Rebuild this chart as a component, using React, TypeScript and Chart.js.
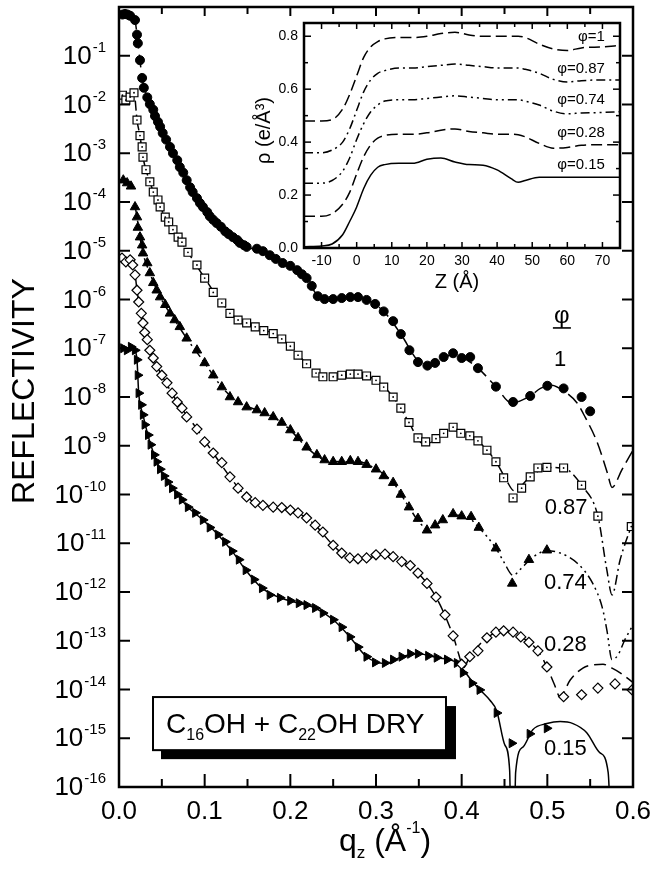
import { useEffect, useRef } from 'react';
import { Chart, registerables } from 'chart.js';

Chart.register(...registerables);

const FONT = '"Liberation Sans", Arial, Helvetica, sans-serif';

type Pt = [number, number];

// ---------------- Main chart: reflectivity R(qz) ----------------
const PHI_1_DATA: Pt[] = [
  [0.004, 0.7], [0.007, 0.72], [0.01, 0.7], [0.013, 0.66], [0.0187, 0.54], [0.021, 0.27], [0.022, 0.18],
  [0.0245, 0.081], [0.027, 0.035], [0.029, 0.022], [0.033, 0.014], [0.036, 0.0102], [0.04, 7.8e-3],
  [0.042, 5.8e-3], [0.0455, 4.4e-3], [0.048, 3.5e-3], [0.051, 2.6e-3], [0.055, 1.9e-3], [0.0595, 1.35e-3],
  [0.063, 1.0e-3], [0.068, 7.2e-4], [0.071, 5.2e-4], [0.075, 4.0e-4], [0.079, 2.8e-4], [0.083, 2.0e-4],
  [0.086, 1.6e-4], [0.091, 1.2e-4], [0.0945, 9.5e-5], [0.098, 7.9e-5], [0.103, 6.2e-5], [0.106, 5.1e-5],
  [0.11, 4.3e-5], [0.114, 3.7e-5], [0.119, 3.1e-5], [0.124, 2.5e-5], [0.128, 2.2e-5], [0.133, 1.9e-5],
  [0.138, 1.66e-5], [0.141, 1.45e-5], [0.146, 1.3e-5], [0.149, 1.2e-5], [0.161, 1.1e-5], [0.168, 9.8e-6],
  [0.176, 8.1e-6], [0.183, 6.8e-6], [0.191, 5.6e-6], [0.2, 4.9e-6], [0.208, 4.0e-6], [0.2135, 3.3e-6],
  [0.219, 2.75e-6], [0.225, 1.9e-6], [0.232, 1.17e-6], [0.24, 1.02e-6], [0.25, 1.02e-6], [0.26, 1.07e-6],
  [0.27, 1.12e-6], [0.279, 1.12e-6], [0.289, 9.8e-7], [0.299, 8.1e-7], [0.309, 5.7e-7], [0.32, 3.6e-7],
  [0.329, 1.95e-7], [0.339, 9.1e-8], [0.349, 5.2e-8], [0.36, 4.4e-8], [0.369, 5.0e-8], [0.379, 6.6e-8],
  [0.39, 7.9e-8], [0.4, 6.3e-8], [0.41, 6.6e-8], [0.419, 3.9e-8], [0.44, 1.63e-8], [0.46, 7.9e-9],
  [0.48, 1.05e-8], [0.5, 1.7e-8], [0.519, 1.5e-8], [0.54, 1.0e-8], [0.55, 5.1e-9],
];

const PHI_087_DATA: Pt[] = [
  [0.004, 0.0155], [0.008, 0.0123], [0.013, 0.0142], [0.0175, 0.0174], [0.021, 4.8e-3], [0.0245, 2.3e-3],
  [0.027, 1.35e-3], [0.028, 8.3e-4], [0.0315, 4.6e-4], [0.036, 2.6e-4], [0.04, 1.6e-4], [0.0455, 1.1e-4],
  [0.048, 7.9e-5], [0.054, 4.9e-5], [0.058, 3.9e-5], [0.063, 2.7e-5], [0.069, 1.9e-5], [0.0735, 1.5e-5],
  [0.0805, 9.3e-6], [0.091, 5.1e-6], [0.1, 2.75e-6], [0.11, 1.4e-6], [0.12, 8.5e-7], [0.1295, 5.2e-7],
  [0.139, 3.8e-7], [0.149, 3.3e-7], [0.159, 2.75e-7], [0.169, 2.3e-7], [0.18, 2.0e-7], [0.19, 1.55e-7],
  [0.2, 1.1e-7], [0.209, 7.2e-8], [0.219, 4.8e-8], [0.23, 3.1e-8], [0.238, 2.6e-8], [0.25, 2.6e-8],
  [0.26, 2.8e-8], [0.27, 2.95e-8], [0.279, 2.95e-8], [0.289, 2.7e-8], [0.3, 2.2e-8], [0.309, 1.6e-8],
  [0.32, 1.0e-8], [0.329, 5.9e-9], [0.3385, 3.0e-9], [0.349, 1.45e-9], [0.358, 1.2e-9], [0.37, 1.4e-9],
  [0.379, 1.8e-9], [0.39, 2.4e-9], [0.399, 1.8e-9], [0.4095, 1.6e-9], [0.419, 1.26e-9], [0.4295, 8.1e-10],
  [0.44, 4.7e-10], [0.449, 2.2e-10], [0.46, 8.5e-11], [0.47, 1.35e-10], [0.48, 2.3e-10], [0.489, 3.5e-10],
  [0.4995, 3.6e-10], [0.519, 3.5e-10], [0.54, 1.55e-10], [0.559, 3.6e-11], [0.598, 2.2e-11],
];

const PHI_074_DATA: Pt[] = [
  [0.005, 2.8e-4], [0.0095, 2.45e-4], [0.014, 2.1e-4], [0.0187, 7.9e-5], [0.021, 4.9e-5], [0.022, 3.0e-5],
  [0.0245, 1.9e-5], [0.027, 1.3e-5], [0.028, 8.9e-6], [0.033, 5.6e-6], [0.036, 3.5e-6], [0.04, 2.2e-6],
  [0.044, 1.55e-6], [0.048, 1.12e-6], [0.054, 7.8e-7], [0.0595, 5.2e-7], [0.065, 3.8e-7], [0.071, 2.75e-7],
  [0.079, 1.6e-7], [0.091, 9.1e-8], [0.1, 5.0e-8], [0.11, 2.8e-8], [0.12, 1.6e-8], [0.1295, 1.0e-8],
  [0.139, 7.9e-9], [0.149, 6.2e-9], [0.161, 5.4e-9], [0.17, 4.7e-9], [0.18, 3.9e-9], [0.19, 3.0e-9],
  [0.2, 2.1e-9], [0.209, 1.45e-9], [0.219, 9.3e-10], [0.231, 6.5e-10], [0.24, 5.1e-10], [0.25, 4.7e-10],
  [0.26, 4.7e-10], [0.27, 4.9e-10], [0.279, 4.7e-10], [0.289, 4.1e-10], [0.3, 3.3e-10], [0.309, 2.4e-10],
  [0.32, 1.75e-10], [0.329, 1.0e-10], [0.3385, 5.5e-11], [0.349, 3.2e-11], [0.3595, 1.85e-11],
  [0.369, 2.35e-11], [0.378, 3.0e-11], [0.39, 4.0e-11], [0.4, 3.6e-11], [0.411, 3.5e-11], [0.42, 2.1e-11],
  [0.44, 7.9e-12], [0.459, 1.5e-12], [0.4785, 4.6e-12], [0.4995, 7.2e-12],
];

const PHI_028_DATA: Pt[] = [
  [0.0035, 7.1e-6], [0.008, 5.9e-6], [0.013, 6.5e-6], [0.016, 5.1e-6], [0.0187, 3.2e-6], [0.021, 1.55e-6],
  [0.023, 8.9e-7], [0.026, 5.2e-7], [0.028, 3.3e-7], [0.03, 2.1e-7], [0.033, 1.5e-7], [0.036, 9.1e-8],
  [0.04, 6.3e-8], [0.044, 4.2e-8], [0.05, 2.8e-8], [0.056, 1.95e-8], [0.062, 1.2e-8], [0.068, 7.9e-9],
  [0.0735, 5.9e-9], [0.079, 3.9e-9], [0.091, 2.2e-9], [0.1, 1.2e-9], [0.11, 7.1e-10], [0.12, 4.5e-10],
  [0.1295, 2.3e-10], [0.139, 1.35e-10], [0.149, 8.9e-11], [0.159, 6.8e-11], [0.168, 6.0e-11],
  [0.18, 5.5e-11], [0.19, 5.4e-11], [0.2, 4.8e-11], [0.209, 4.2e-11], [0.219, 3.3e-11], [0.229, 2.35e-11],
  [0.238, 1.7e-11], [0.25, 9.1e-12], [0.26, 6.3e-12], [0.2695, 5.0e-12], [0.279, 4.8e-12], [0.289, 5.0e-12],
  [0.3, 5.8e-12], [0.3105, 6.0e-12], [0.32, 5.3e-12], [0.33, 4.2e-12], [0.34, 3.5e-12], [0.349, 2.45e-12],
  [0.3595, 1.5e-12], [0.37, 7.9e-13], [0.3805, 3.4e-13], [0.39, 1.26e-13], [0.4, 3.3e-14], [0.4095, 4.7e-14],
  [0.419, 6.2e-14], [0.4295, 1.15e-13], [0.44, 1.5e-13], [0.449, 1.6e-13], [0.46, 1.5e-13], [0.469, 1.2e-13],
  [0.4785, 9.3e-14], [0.489, 6.2e-14], [0.4995, 2.9e-14], [0.519, 7.1e-15], [0.54, 7.8e-15],
  [0.559, 1.07e-14], [0.579, 1.3e-14], [0.599, 9.8e-15],
];

const PHI_015_DATA: Pt[] = [
  [0.005, 1.0e-7], [0.0093, 9.1e-8], [0.014, 1.07e-7], [0.0187, 9.1e-8], [0.021, 5.8e-8], [0.022, 2.8e-8],
  [0.023, 1.2e-8], [0.026, 6.9e-9], [0.028, 4.3e-9], [0.03, 2.7e-9], [0.034, 1.66e-9], [0.037, 1.05e-9],
  [0.041, 6.5e-10], [0.044, 4.7e-10], [0.048, 3.3e-10], [0.0525, 2.4e-10], [0.057, 1.8e-10], [0.062, 1.35e-10],
  [0.068, 1.0e-10], [0.0735, 7.8e-11], [0.0805, 5.5e-11], [0.089, 4.2e-11], [0.098, 3.0e-11], [0.106, 2.1e-11],
  [0.1155, 1.5e-11], [0.124, 1.07e-11], [0.132, 6.9e-12], [0.14, 4.6e-12], [0.148, 2.8e-12],
  [0.1575, 1.8e-12], [0.167, 1.2e-12], [0.176, 8.7e-13], [0.188, 7.6e-13], [0.2, 6.6e-13], [0.21, 5.9e-13],
  [0.219, 5.4e-13], [0.229, 4.7e-13], [0.238, 3.7e-13], [0.25, 2.7e-13], [0.26, 1.9e-13], [0.2695, 1.2e-13],
  [0.279, 7.4e-14], [0.289, 4.7e-14], [0.299, 3.6e-14], [0.3105, 3.5e-14], [0.32, 4.1e-14], [0.33, 4.7e-14],
  [0.34, 5.4e-14], [0.349, 5.4e-14], [0.361, 4.9e-14], [0.371, 4.5e-14], [0.383, 4.1e-14], [0.3945, 3.5e-14],
  [0.4015, 2.2e-14], [0.412, 1.35e-14], [0.421, 9.8e-15], [0.441, 3.3e-15], [0.4585, 7.9e-16],
  [0.4795, 1.23e-15], [0.4995, 1.6e-15],
];

// model fits (lines)
const FIT_1: Pt[] = [
  [0.017, 0.62], [0.019, 0.5], [0.021, 0.27], [0.0245, 0.08], [0.027, 0.035], [0.033, 0.014], [0.04, 7.8e-3],
  [0.051, 2.6e-3], [0.063, 1.0e-3], [0.075, 4.0e-4], [0.086, 1.6e-4], [0.098, 7.9e-5], [0.114, 3.7e-5],
  [0.133, 1.9e-5], [0.149, 1.2e-5], [0.161, 1.05e-5], [0.176, 8.1e-6], [0.191, 5.6e-6], [0.208, 4.0e-6],
  [0.219, 2.75e-6], [0.232, 1.2e-6], [0.25, 1.02e-6], [0.27, 1.12e-6], [0.289, 9.8e-7], [0.309, 5.7e-7],
  [0.329, 1.95e-7], [0.349, 5.5e-8], [0.36, 4.3e-8], [0.372, 5.2e-8], [0.388, 7.3e-8], [0.4, 6.6e-8],
  [0.419, 3.9e-8], [0.44, 1.63e-8], [0.458, 7.6e-9], [0.48, 1.05e-8], [0.492, 1.5e-8], [0.505, 1.75e-8],
  [0.52, 1.3e-8], [0.5345, 7.6e-9], [0.544, 3.9e-9], [0.558, 1.2e-9], [0.57, 2.8e-10], [0.5755, 1.4e-10],
  [0.587, 3.2e-10], [0.6, 8.1e-10],
];

const FIT_087: Pt[] = [
  [0.019, 0.012], [0.021, 4.8e-3], [0.0245, 2.3e-3], [0.028, 8.3e-4], [0.036, 2.6e-4], [0.048, 7.9e-5],
  [0.063, 2.7e-5], [0.0805, 9.3e-6], [0.1, 2.75e-6], [0.12, 8.5e-7], [0.139, 3.8e-7], [0.159, 2.75e-7],
  [0.18, 2.0e-7], [0.2, 1.1e-7], [0.219, 4.8e-8], [0.238, 2.6e-8], [0.26, 2.8e-8], [0.279, 2.95e-8],
  [0.3, 2.2e-8], [0.32, 1.0e-8], [0.3385, 3.0e-9], [0.35, 1.3e-9], [0.358, 1.05e-9], [0.37, 1.4e-9],
  [0.386, 2.1e-9], [0.4, 1.9e-9], [0.419, 1.26e-9], [0.44, 4.7e-10], [0.452, 2.0e-10], [0.461, 1.2e-10],
  [0.48, 2.3e-10], [0.5, 3.6e-10], [0.52, 3.4e-10], [0.54, 1.55e-10], [0.559, 3.6e-11], [0.5695, 2.8e-12],
  [0.5755, 8.7e-13], [0.585, 4.6e-12], [0.6, 2.8e-11],
];

const FIT_074: Pt[] = [
  [0.019, 7.9e-5], [0.021, 4.9e-5], [0.0245, 1.9e-5], [0.028, 8.9e-6], [0.036, 3.5e-6], [0.048, 1.12e-6],
  [0.065, 3.8e-7], [0.079, 1.6e-7], [0.1, 5.0e-8], [0.12, 1.6e-8], [0.139, 7.9e-9], [0.161, 5.4e-9],
  [0.18, 3.9e-9], [0.2, 2.1e-9], [0.219, 9.3e-10], [0.24, 5.1e-10], [0.26, 4.7e-10], [0.279, 4.7e-10],
  [0.3, 3.3e-10], [0.32, 1.75e-10], [0.3385, 5.5e-11], [0.352, 2.5e-11], [0.361, 2.0e-11], [0.372, 2.5e-11],
  [0.39, 3.8e-11], [0.405, 3.6e-11], [0.42, 2.1e-11], [0.44, 7.9e-12], [0.449, 4.2e-12], [0.46, 2.2e-12],
  [0.47, 3.1e-12], [0.482, 5.0e-12], [0.4995, 7.0e-12], [0.515, 6.3e-12], [0.535, 3.9e-12], [0.553, 1.5e-12],
  [0.564, 4.9e-13], [0.5695, 1.66e-13], [0.5755, 4.1e-14], [0.5825, 5.1e-14], [0.5905, 1.05e-13],
  [0.6, 2.1e-13],
];

const FIT_028: Pt[] = [
  [0.019, 3.2e-6], [0.021, 1.55e-6], [0.028, 3.3e-7], [0.036, 9.1e-8], [0.05, 2.8e-8], [0.068, 7.9e-9],
  [0.091, 2.2e-9], [0.11, 7.1e-10], [0.1295, 2.3e-10], [0.149, 8.9e-11], [0.168, 6.0e-11], [0.19, 5.4e-11],
  [0.209, 4.2e-11], [0.229, 2.35e-11], [0.25, 9.1e-12], [0.2695, 5.0e-12], [0.289, 5.0e-12], [0.3105, 6.0e-12],
  [0.33, 4.2e-12], [0.349, 2.45e-12], [0.37, 7.9e-13], [0.39, 1.26e-13], [0.397, 5.0e-14], [0.402, 2.8e-14],
  [0.4095, 4.7e-14], [0.4295, 1.15e-13], [0.449, 1.6e-13], [0.469, 1.2e-13], [0.489, 6.2e-14],
  [0.4995, 2.9e-14], [0.508, 1.3e-14], [0.515, 7.0e-15], [0.5265, 1.55e-14], [0.5415, 2.75e-14],
  [0.553, 3.2e-14], [0.565, 3.3e-14], [0.5755, 2.75e-14], [0.585, 2.2e-14], [0.6, 1.4e-14],
];

const FIT_015: Pt[] = [
  [0.019, 9.1e-8], [0.021, 5.8e-8], [0.023, 1.2e-8], [0.028, 4.3e-9], [0.037, 1.05e-9], [0.048, 3.3e-10],
  [0.062, 1.35e-10], [0.0805, 5.5e-11], [0.098, 3.0e-11], [0.1155, 1.5e-11], [0.132, 6.9e-12], [0.148, 2.8e-12],
  [0.167, 1.2e-12], [0.188, 7.6e-13], [0.21, 5.9e-13], [0.229, 4.7e-13], [0.25, 2.7e-13], [0.2695, 1.2e-13],
  [0.289, 4.7e-14], [0.3105, 3.4e-14], [0.33, 4.7e-14], [0.349, 5.4e-14], [0.371, 4.5e-14], [0.3945, 3.5e-14],
  [0.412, 1.5e-14], [0.421, 1.0e-14], [0.433, 6.0e-15], [0.441, 3.6e-15], [0.4505, 7.2e-16], [0.456, 2.2e-16],
  [0.4595, 1e-20], [0.463, 2.0e-16], [0.4715, 6.6e-16], [0.483, 1.5e-15], [0.4995, 2.0e-15], [0.515, 2.2e-15],
  [0.53, 2.0e-15], [0.546, 1.3e-15], [0.5615, 5.0e-16], [0.571, 2.0e-16], [0.578, 1e-20],
];

// axes of the main chart
const Q_TICK_VALUES = [0, 0.1, 0.2, 0.3, 0.4, 0.5, 0.6];
const Q_TICK_LABELS = ['0.0', '0.1', '0.2', '0.3', '0.4', '0.5', '0.6'];
const Q_MINOR_TICKS = [0.05, 0.15, 0.25, 0.35, 0.45, 0.55];
const R_TICK_EXPONENTS = [-1, -2, -3, -4, -5, -6, -7, -8, -9, -10, -11, -12, -13, -14, -15, -16];

// curve labels (anchored in data coordinates)
const PHI_HEADER = { text: 'φ', q: 0.517, r: 4.6e-7 };
const CURVE_LABELS = [
  { text: '1', q: 0.515, r: 5.8e-8 },
  { text: '0.87', q: 0.522, r: 5.2e-11 },
  { text: '0.74', q: 0.521, r: 1.5e-12 },
  { text: '0.28', q: 0.521, r: 8.1e-14 },
  { text: '0.15', q: 0.521, r: 6.0e-16 },
];
const SAMPLE_BOX = { q0: 0.0397, q1: 0.3817, rTop: 7.0e-15, rBottom: 5.7e-16 };

// ---------------- Inset: electron density profiles ----------------
const Z_VALUES = [-15, -10, -7, -4, -2, 0, 2, 4, 6, 8, 12, 16, 20, 24, 28, 32, 36, 40, 44, 46, 48, 52, 56, 60, 64, 70, 75];
const RHO_PHI_1 = [0.48, 0.48, 0.485, 0.525, 0.58, 0.65, 0.72, 0.76, 0.78, 0.79, 0.795, 0.795, 0.8, 0.81, 0.815, 0.805, 0.8, 0.8, 0.8, 0.8, 0.795, 0.77, 0.752, 0.746, 0.756, 0.76, 0.765];
const RHO_PHI_087 = [0.36, 0.36, 0.37, 0.4, 0.45, 0.52, 0.59, 0.635, 0.66, 0.67, 0.68, 0.68, 0.685, 0.69, 0.695, 0.69, 0.685, 0.68, 0.68, 0.68, 0.675, 0.66, 0.637, 0.627, 0.632, 0.635, 0.635];
const RHO_PHI_074 = [0.245, 0.245, 0.255, 0.29, 0.34, 0.41, 0.47, 0.515, 0.54, 0.555, 0.56, 0.56, 0.565, 0.57, 0.575, 0.57, 0.565, 0.56, 0.56, 0.56, 0.555, 0.54, 0.517, 0.507, 0.51, 0.512, 0.515];
const RHO_PHI_028 = [0.12, 0.12, 0.13, 0.165, 0.21, 0.28, 0.345, 0.39, 0.415, 0.425, 0.43, 0.43, 0.435, 0.445, 0.45, 0.44, 0.435, 0.43, 0.43, 0.428, 0.42, 0.395, 0.377, 0.38, 0.388, 0.39, 0.39];
const RHO_PHI_015 = [0.005, 0.008, 0.015, 0.05, 0.1, 0.155, 0.225, 0.275, 0.305, 0.315, 0.32, 0.32, 0.335, 0.34, 0.325, 0.315, 0.313, 0.295, 0.262, 0.248, 0.255, 0.267, 0.267, 0.267, 0.267, 0.267, 0.267];

const Z_TICK_LABELS = [-10, 0, 10, 20, 30, 40, 50, 60, 70];
const Z_MINOR_TICKS = [-5, 5, 15, 25, 35, 45, 55, 65];
const RHO_TICK_LABELS = [0, 0.2, 0.4, 0.6, 0.8];
const RHO_MINOR_TICKS = [0.1, 0.3, 0.5, 0.7];
const INSET_LABELS = [
  { text: 'φ=1', z: 70.7, rho: 0.796 },
  { text: 'φ=0.87', z: 70.7, rho: 0.675 },
  { text: 'φ=0.74', z: 70.7, rho: 0.558 },
  { text: 'φ=0.28', z: 70.7, rho: 0.434 },
  { text: 'φ=0.15', z: 70.7, rho: 0.313 },
];

// ---------------- helpers ----------------
const toXY = (arr: Pt[]) => arr.map(([x, y]) => ({ x, y }));
const zip = (xs: number[], ys: number[]) => xs.map((x, i) => ({ x, y: ys[i] }));

type Part = { t: string; size: number; dy: number };
function drawRich(ctx: CanvasRenderingContext2D, parts: Part[], x: number, y: number, align: 'left' | 'center') {
  let total = 0;
  for (const p of parts) {
    ctx.font = `${p.size}px ${FONT}`;
    total += ctx.measureText(p.t).width;
  }
  let cx = align === 'center' ? x - total / 2 : x;
  ctx.textAlign = 'left';
  ctx.textBaseline = 'alphabetic';
  for (const p of parts) {
    ctx.font = `${p.size}px ${FONT}`;
    ctx.fillText(p.t, cx, y + p.dy);
    cx += ctx.measureText(p.t).width;
  }
}

function line(ctx: CanvasRenderingContext2D, x0: number, y0: number, x1: number, y1: number) {
  ctx.beginPath();
  ctx.moveTo(x0, y0);
  ctx.lineTo(x1, y1);
  ctx.stroke();
}

const mainDecor = {
  id: 'mainDecor',
  afterDraw(chart: any) {
    const { ctx, chartArea: a } = chart;
    const sx = chart.scales.x;
    const sy = chart.scales.y;
    ctx.save();
    ctx.strokeStyle = '#000';
    ctx.fillStyle = '#000';
    ctx.lineWidth = 2;
    Q_TICK_VALUES.forEach((q) => {
      const x = sx.getPixelForValue(q);
      line(ctx, x, a.bottom, x, a.bottom - 13);
      line(ctx, x, a.top, x, a.top + 9);
    });
    Q_MINOR_TICKS.forEach((q) => {
      const x = sx.getPixelForValue(q);
      line(ctx, x, a.bottom, x, a.bottom - 8);
      line(ctx, x, a.top, x, a.top + 7);
    });
    R_TICK_EXPONENTS.forEach((e) => {
      const y = sy.getPixelForValue(Math.pow(10, e));
      line(ctx, a.left, y, a.left + 11, y);
      line(ctx, a.right, y, a.right - 11, y);
    });
    ctx.lineWidth = 2.5;
    ctx.strokeRect(a.left, a.top, a.right - a.left, a.bottom - a.top);

    // y tick labels 10^-n
    R_TICK_EXPONENTS.forEach((e) => {
      const y = sy.getPixelForValue(Math.pow(10, e));
      const exp = '-' + Math.abs(e);
      ctx.font = `15px ${FONT}`;
      ctx.textAlign = 'right';
      ctx.textBaseline = 'middle';
      const ew = ctx.measureText(exp).width;
      ctx.fillText(exp, a.left - 13, y - 8);
      ctx.font = `26px ${FONT}`;
      ctx.fillText('10', a.left - 14 - ew, y + 1);
    });
    // x tick labels
    ctx.font = `26px ${FONT}`;
    ctx.textAlign = 'center';
    ctx.textBaseline = 'alphabetic';
    Q_TICK_VALUES.forEach((q, i) => {
      ctx.fillText(Q_TICK_LABELS[i], sx.getPixelForValue(q), a.bottom + 32);
    });
    // axis titles
    drawRich(
      ctx,
      [
        { t: 'q', size: 32, dy: 0 },
        { t: 'z', size: 17, dy: 7 },
        { t: ' (Å', size: 32, dy: 0 },
        { t: '-1', size: 16, dy: -18 },
        { t: ')', size: 32, dy: 0 },
      ],
      (a.left + a.right) / 2 + 9,
      a.bottom + 64,
      'center'
    );
    ctx.save();
    ctx.translate(34, (a.top + a.bottom) / 2 - 6);
    ctx.rotate(-Math.PI / 2);
    ctx.font = `32px ${FONT}`;
    ctx.textAlign = 'center';
    ctx.textBaseline = 'alphabetic';
    ctx.fillText('REFLECTIVITY', 0, 0);
    ctx.restore();

    // curve labels
    ctx.font = `22px ${FONT}`;
    ctx.textAlign = 'center';
    ctx.textBaseline = 'middle';
    CURVE_LABELS.forEach((l) => {
      ctx.fillText(l.text, sx.getPixelForValue(l.q), sy.getPixelForValue(l.r));
    });
    const hx = sx.getPixelForValue(PHI_HEADER.q);
    const hy = sy.getPixelForValue(PHI_HEADER.r);
    ctx.font = `24px ${FONT}`;
    ctx.fillText(PHI_HEADER.text, hx, hy);
    ctx.lineWidth = 1.6;
    line(ctx, hx - 9, hy + 12, hx + 9, hy + 12);

    // sample box with shadow
    const bx0 = sx.getPixelForValue(SAMPLE_BOX.q0);
    const bx1 = sx.getPixelForValue(SAMPLE_BOX.q1);
    const by0 = sy.getPixelForValue(SAMPLE_BOX.rTop);
    const by1 = sy.getPixelForValue(SAMPLE_BOX.rBottom);
    ctx.fillStyle = '#000';
    ctx.fillRect(bx0 + 8, by0 + 9, bx1 - bx0 + 2, by1 - by0);
    ctx.fillStyle = '#fff';
    ctx.fillRect(bx0, by0, bx1 - bx0, by1 - by0);
    ctx.lineWidth = 2;
    ctx.strokeRect(bx0, by0, bx1 - bx0, by1 - by0);
    ctx.fillStyle = '#000';
    drawRich(
      ctx,
      [
        { t: 'C', size: 28, dy: 0 },
        { t: '16', size: 16, dy: 7 },
        { t: 'OH + C', size: 28, dy: 0 },
        { t: '22', size: 16, dy: 7 },
        { t: 'OH DRY', size: 28, dy: 0 },
      ],
      bx0 + 13,
      by0 + 36,
      'left'
    );
    ctx.restore();
  },
};

const insetDecor = {
  id: 'insetDecor',
  beforeDatasetsDraw(chart: any) {
    const { ctx, chartArea: a } = chart;
    ctx.save();
    ctx.fillStyle = '#fff';
    ctx.fillRect(a.left, a.top, a.right - a.left, a.bottom - a.top);
    ctx.restore();
  },
  afterDraw(chart: any) {
    const { ctx, chartArea: a } = chart;
    const sx = chart.scales.x;
    const sy = chart.scales.y;
    ctx.save();
    ctx.strokeStyle = '#000';
    ctx.fillStyle = '#000';
    ctx.lineWidth = 1.5;
    Z_TICK_LABELS.forEach((z) => {
      const x = sx.getPixelForValue(z);
      line(ctx, x, a.bottom, x, a.bottom - 6);
      line(ctx, x, a.top, x, a.top + 6);
    });
    Z_MINOR_TICKS.forEach((z) => {
      const x = sx.getPixelForValue(z);
      line(ctx, x, a.bottom, x, a.bottom - 4);
      line(ctx, x, a.top, x, a.top + 4);
    });
    RHO_TICK_LABELS.forEach((r) => {
      const y = sy.getPixelForValue(r);
      line(ctx, a.left, y, a.left + 7, y);
      line(ctx, a.right, y, a.right - 7, y);
    });
    RHO_MINOR_TICKS.forEach((r) => {
      const y = sy.getPixelForValue(r);
      line(ctx, a.left, y, a.left + 4, y);
      line(ctx, a.right, y, a.right - 4, y);
    });
    ctx.lineWidth = 2.5;
    ctx.strokeRect(a.left, a.top, a.right - a.left, a.bottom - a.top);

    ctx.font = `14px ${FONT}`;
    ctx.textAlign = 'center';
    ctx.textBaseline = 'top';
    Z_TICK_LABELS.forEach((z) => {
      ctx.fillText(String(z), sx.getPixelForValue(z), a.bottom + 6);
    });
    ctx.textAlign = 'right';
    ctx.textBaseline = 'middle';
    RHO_TICK_LABELS.forEach((r) => {
      ctx.fillText(r.toFixed(1), a.left - 6, sy.getPixelForValue(r));
    });

    ctx.font = `20px ${FONT}`;
    ctx.textAlign = 'center';
    ctx.textBaseline = 'alphabetic';
    ctx.fillText('Z (Å)', (a.left + a.right) / 2 - 5, a.bottom + 40);
    ctx.save();
    ctx.translate(a.left - 34, (a.top + a.bottom) / 2 - 5);
    ctx.rotate(-Math.PI / 2);
    ctx.fillText('ρ (e/Å³)', 0, 0);
    ctx.restore();

    ctx.font = `15px ${FONT}`;
    ctx.textAlign = 'right';
    ctx.textBaseline = 'middle';
    INSET_LABELS.forEach((l) => {
      ctx.fillText(l.text, sx.getPixelForValue(l.z), sy.getPixelForValue(l.rho));
    });
    ctx.restore();
  },
};

export default function App() {
  const mainRef = useRef<HTMLCanvasElement>(null);
  const insetRef = useRef<HTMLCanvasElement>(null);

  useEffect(() => {
    const markers = { showLine: false, order: 1 };
    const fitLine = {
      pointRadius: 0,
      borderColor: '#000',
      borderWidth: 1.5,
      fill: false,
      cubicInterpolationMode: 'monotone' as const,
      order: 2,
    };
    const main = new Chart(mainRef.current!, {
      type: 'line',
      data: {
        datasets: [
          { ...markers, data: toXY(PHI_087_DATA), pointStyle: 'circle', pointRadius: 0.9, backgroundColor: '#000', borderColor: '#000', borderWidth: 0, order: 0 },
          { ...markers, data: toXY(PHI_1_DATA), pointStyle: 'circle', pointRadius: 4.5, backgroundColor: '#000', borderColor: '#000', borderWidth: 1 },
          { ...markers, data: toXY(PHI_087_DATA), pointStyle: 'rect', pointRadius: 5.6, backgroundColor: '#fff', borderColor: '#000', borderWidth: 1.2 },
          { ...markers, data: toXY(PHI_074_DATA), pointStyle: 'triangle', pointRadius: 5.5, backgroundColor: '#000', borderColor: '#000', borderWidth: 1 },
          { ...markers, data: toXY(PHI_028_DATA), pointStyle: 'rectRot', pointRadius: 5, backgroundColor: '#fff', borderColor: '#000', borderWidth: 1.2 },
          { ...markers, data: toXY(PHI_015_DATA), pointStyle: 'triangle', pointRotation: 90, pointRadius: 5.2, backgroundColor: '#000', borderColor: '#000', borderWidth: 1 },
          { ...fitLine, data: toXY(FIT_1), borderDash: [13, 6] },
          { ...fitLine, data: toXY(FIT_087), borderDash: [10, 4, 2, 4] },
          { ...fitLine, data: toXY(FIT_074), borderDash: [10, 4, 2, 4, 2, 4] },
          { ...fitLine, data: toXY(FIT_028), borderDash: [12, 6] },
          { ...fitLine, data: toXY(FIT_015) },
        ] as any,
      },
      options: {
        animation: false,
        responsive: false,
        devicePixelRatio: 1,
        events: [],
        layout: { padding: { left: 119, top: 7, right: 18, bottom: 84 } },
        scales: {
          x: { type: 'linear', min: 0, max: 0.6, display: false },
          y: { type: 'logarithmic', min: 1e-16, max: 1, display: false },
        },
        plugins: { legend: { display: false }, tooltip: { enabled: false } },
      },
      plugins: [mainDecor],
    });

    const insetLine = {
      pointRadius: 0,
      borderColor: '#000',
      borderWidth: 1.5,
      fill: false,
      cubicInterpolationMode: 'monotone' as const,
    };
    const inset = new Chart(insetRef.current!, {
      type: 'line',
      data: {
        datasets: [
          { ...insetLine, data: zip(Z_VALUES, RHO_PHI_1), borderDash: [11, 5] },
          { ...insetLine, data: zip(Z_VALUES, RHO_PHI_087), borderDash: [9, 4, 2, 4] },
          { ...insetLine, data: zip(Z_VALUES, RHO_PHI_074), borderDash: [9, 4, 2, 4, 2, 4] },
          { ...insetLine, data: zip(Z_VALUES, RHO_PHI_028), borderDash: [11, 5] },
          { ...insetLine, data: zip(Z_VALUES, RHO_PHI_015) },
        ] as any,
      },
      options: {
        animation: false,
        responsive: false,
        devicePixelRatio: 1,
        events: [],
        layout: { padding: { left: 54, top: 13, right: 10, bottom: 52 } },
        scales: {
          x: { type: 'linear', min: -15, max: 75, display: false },
          y: { type: 'linear', min: 0, max: 0.85, display: false },
        },
        plugins: { legend: { display: false }, tooltip: { enabled: false } },
      },
      plugins: [insetDecor],
    });

    return () => {
      main.destroy();
      inset.destroy();
    };
  }, []);

  return (
    <div style={{ position: 'absolute', left: 0, top: 0, width: 651, height: 871, background: '#fff' }}>
      <canvas ref={mainRef} width={651} height={871} style={{ position: 'absolute', left: 0, top: 0 }} />
      <canvas ref={insetRef} width={380} height={290} style={{ position: 'absolute', left: 250, top: 10 }} />
    </div>
  );
}
